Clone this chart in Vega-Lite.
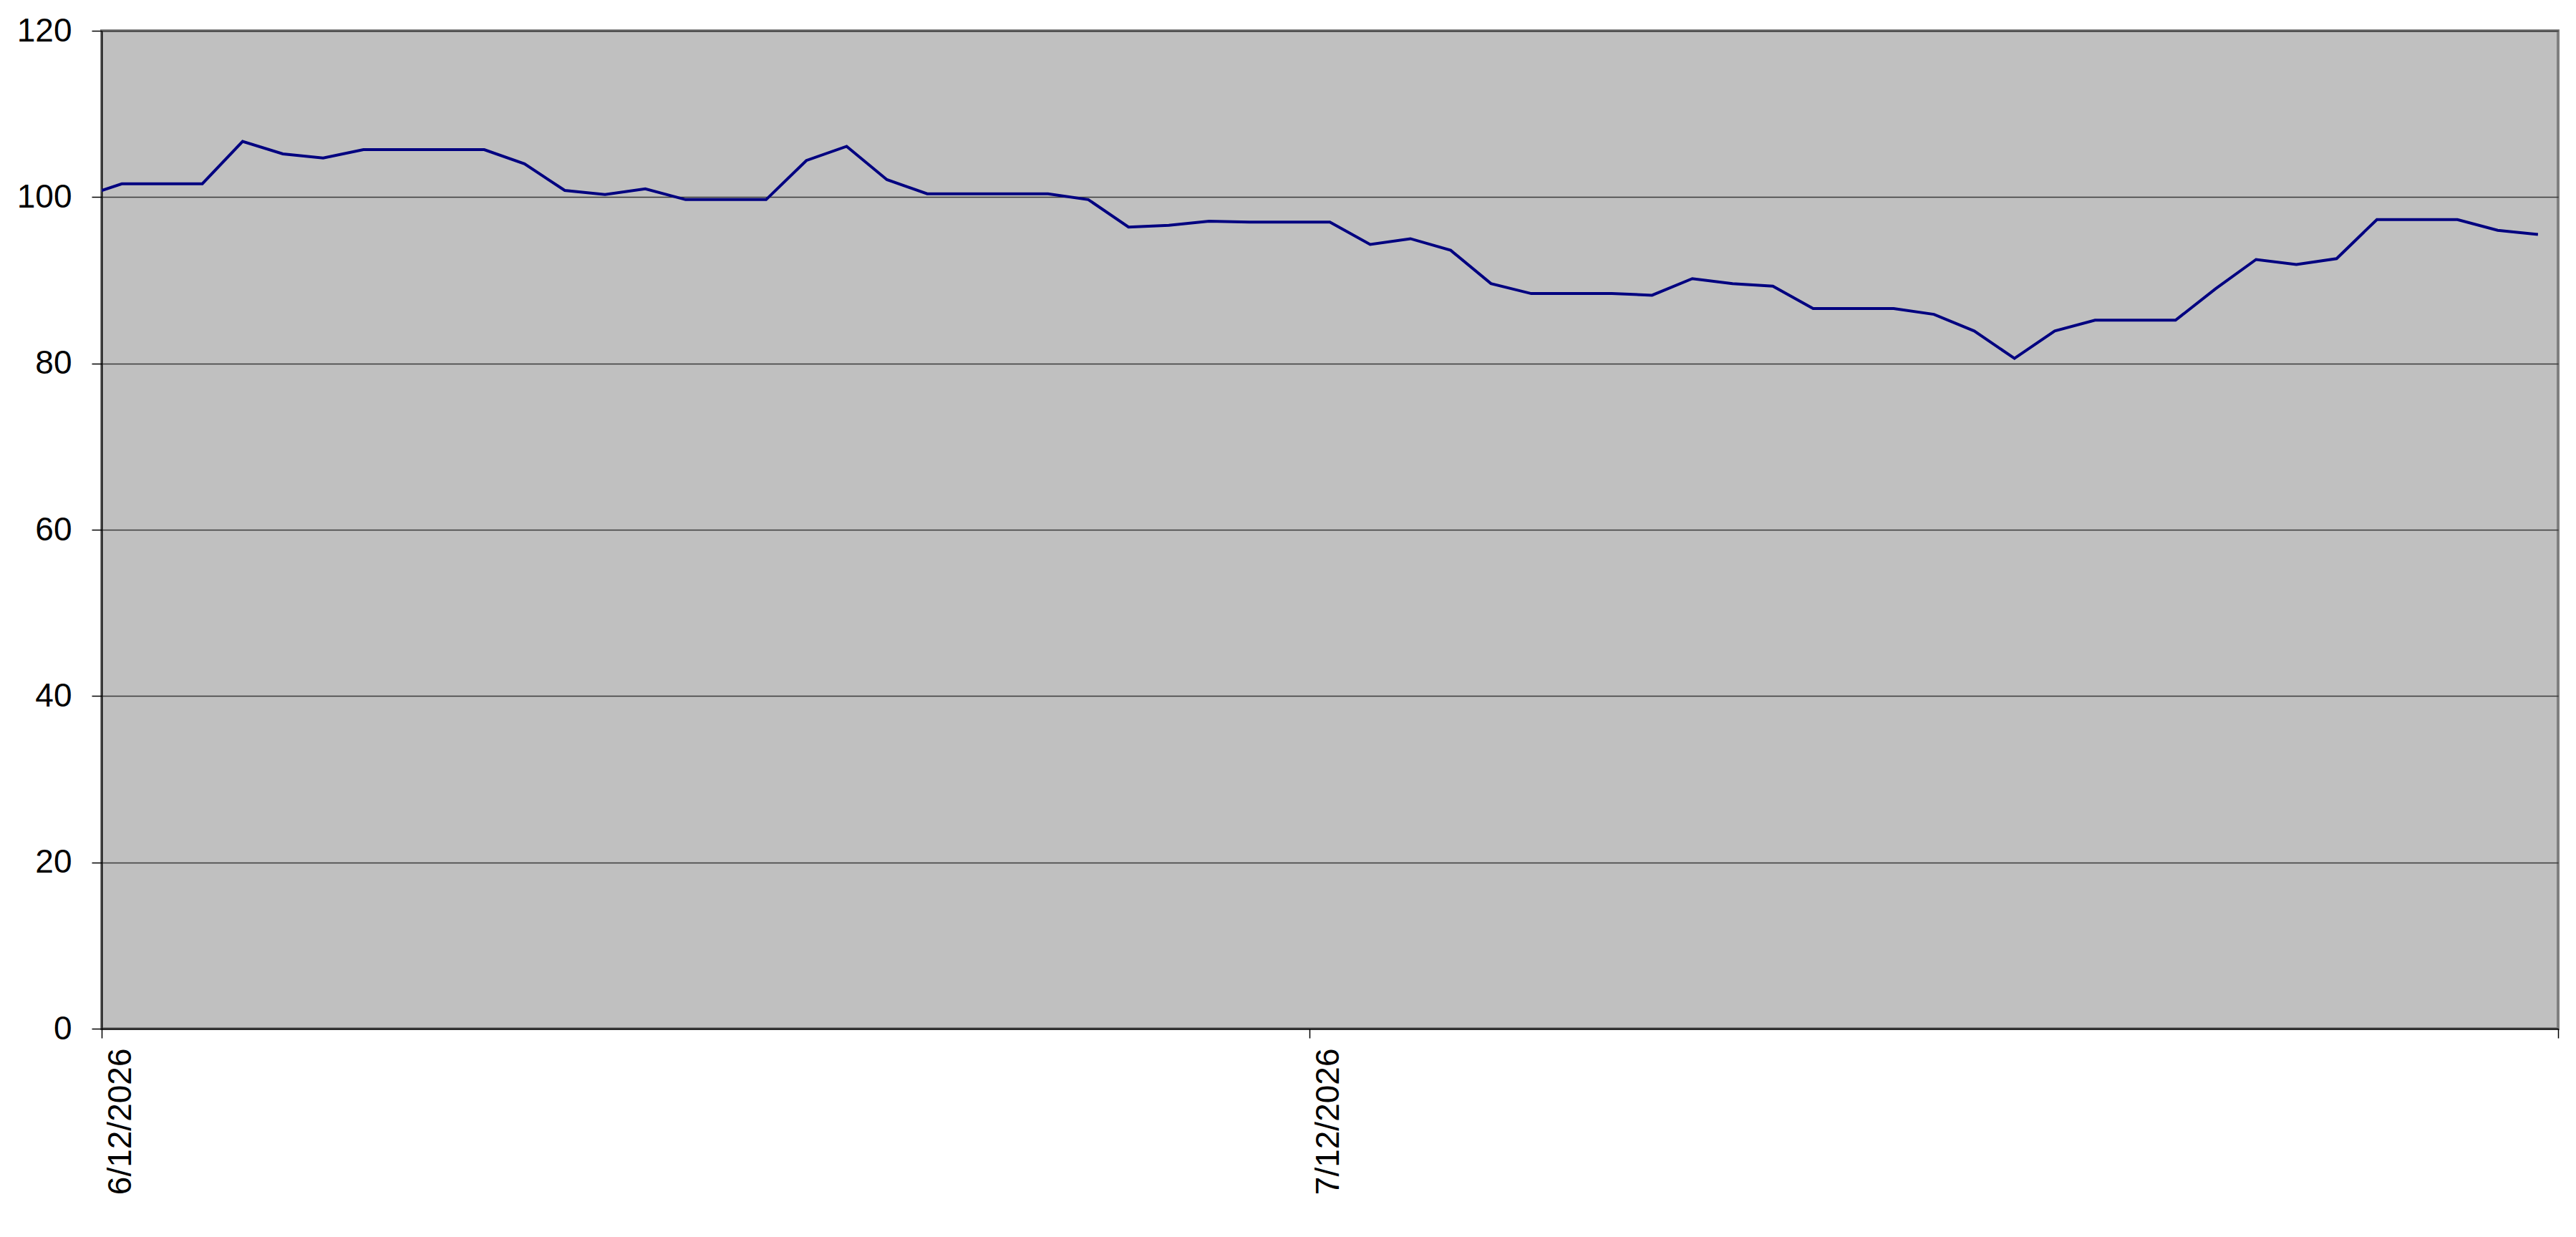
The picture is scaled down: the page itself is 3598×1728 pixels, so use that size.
{
  "$schema": "https://vega.github.io/schema/vega-lite/v6.json",
  "autosize": {"type": "none"},
  "padding": {"left": 142, "top": 43, "right": 25, "bottom": 291},
  "width": 3431,
  "height": 1394,
  "background": "white",
  "config": {
    "view": {"fill": "#C0C0C0", "stroke": "#808080", "strokeWidth": 4},
    "axis": {
      "labelFont": "Liberation Sans",
      "labelFontSize": 46,
      "labelColor": "black",
      "labelLimit": 0,
      "domainColor": "black",
      "domainWidth": 1.5,
      "tickColor": "black",
      "tickWidth": 1.5,
      "title": null
    }
  },
  "data": {
    "values": [
      {"date": "2026-06-11T12:00:00", "value": 100.0},
      {"date": "2026-06-12T12:00:00", "value": 101.6},
      {"date": "2026-06-13T12:00:00", "value": 101.6},
      {"date": "2026-06-14T12:00:00", "value": 101.6},
      {"date": "2026-06-15T12:00:00", "value": 106.7},
      {"date": "2026-06-16T12:00:00", "value": 105.2},
      {"date": "2026-06-17T12:00:00", "value": 104.7},
      {"date": "2026-06-18T12:00:00", "value": 105.7},
      {"date": "2026-06-19T12:00:00", "value": 105.7},
      {"date": "2026-06-20T12:00:00", "value": 105.7},
      {"date": "2026-06-21T12:00:00", "value": 105.7},
      {"date": "2026-06-22T12:00:00", "value": 104.0},
      {"date": "2026-06-23T12:00:00", "value": 100.8},
      {"date": "2026-06-24T12:00:00", "value": 100.3},
      {"date": "2026-06-25T12:00:00", "value": 101.0},
      {"date": "2026-06-26T12:00:00", "value": 99.7},
      {"date": "2026-06-27T12:00:00", "value": 99.7},
      {"date": "2026-06-28T12:00:00", "value": 99.7},
      {"date": "2026-06-29T12:00:00", "value": 104.4},
      {"date": "2026-06-30T12:00:00", "value": 106.1},
      {"date": "2026-07-01T12:00:00", "value": 102.1},
      {"date": "2026-07-02T12:00:00", "value": 100.4},
      {"date": "2026-07-03T12:00:00", "value": 100.4},
      {"date": "2026-07-04T12:00:00", "value": 100.4},
      {"date": "2026-07-05T12:00:00", "value": 100.4},
      {"date": "2026-07-06T12:00:00", "value": 99.7},
      {"date": "2026-07-07T12:00:00", "value": 96.4},
      {"date": "2026-07-08T12:00:00", "value": 96.6},
      {"date": "2026-07-09T12:00:00", "value": 97.1},
      {"date": "2026-07-10T12:00:00", "value": 97.0},
      {"date": "2026-07-11T12:00:00", "value": 97.0},
      {"date": "2026-07-12T12:00:00", "value": 97.0},
      {"date": "2026-07-13T12:00:00", "value": 94.3},
      {"date": "2026-07-14T12:00:00", "value": 95.0},
      {"date": "2026-07-15T12:00:00", "value": 93.6},
      {"date": "2026-07-16T12:00:00", "value": 89.6},
      {"date": "2026-07-17T12:00:00", "value": 88.4},
      {"date": "2026-07-18T12:00:00", "value": 88.4},
      {"date": "2026-07-19T12:00:00", "value": 88.4},
      {"date": "2026-07-20T12:00:00", "value": 88.2},
      {"date": "2026-07-21T12:00:00", "value": 90.2},
      {"date": "2026-07-22T12:00:00", "value": 89.6},
      {"date": "2026-07-23T12:00:00", "value": 89.3},
      {"date": "2026-07-24T12:00:00", "value": 86.6},
      {"date": "2026-07-25T12:00:00", "value": 86.6},
      {"date": "2026-07-26T12:00:00", "value": 86.6},
      {"date": "2026-07-27T12:00:00", "value": 85.9},
      {"date": "2026-07-28T12:00:00", "value": 83.9},
      {"date": "2026-07-29T12:00:00", "value": 80.6},
      {"date": "2026-07-30T12:00:00", "value": 83.9},
      {"date": "2026-07-31T12:00:00", "value": 85.2},
      {"date": "2026-08-01T12:00:00", "value": 85.2},
      {"date": "2026-08-02T12:00:00", "value": 85.2},
      {"date": "2026-08-03T12:00:00", "value": 89.0},
      {"date": "2026-08-04T12:00:00", "value": 92.5},
      {"date": "2026-08-05T12:00:00", "value": 91.9},
      {"date": "2026-08-06T12:00:00", "value": 92.6},
      {"date": "2026-08-07T12:00:00", "value": 97.3},
      {"date": "2026-08-08T12:00:00", "value": 97.3},
      {"date": "2026-08-09T12:00:00", "value": 97.3},
      {"date": "2026-08-10T12:00:00", "value": 96.0},
      {"date": "2026-08-11T12:00:00", "value": 95.5}
    ]
  },
  "mark": {"type": "line", "color": "#000080", "strokeWidth": 4, "clip": true},
  "encoding": {
    "x": {
      "field": "date",
      "type": "temporal",
      "scale": {
        "domain": [
          {"year": 2026, "month": 6, "date": 12},
          {"year": 2026, "month": 8, "date": 12}
        ]
      },
      "axis": {
        "values": [
          {"year": 2026, "month": 6, "date": 12},
          {"year": 2026, "month": 7, "date": 12},
          {"year": 2026, "month": 8, "date": 12}
        ],
        "format": "%-m/%-d/%Y",
        "labelExpr": "datum.index < 1 ? datum.label : ''",
        "labelAngle": -90,
        "labelAlign": "right",
        "labelBaseline": "middle",
        "labelOffset": 26,
        "labelPadding": 14,
        "tickSize": 13,
        "grid": false
      }
    },
    "y": {
      "field": "value",
      "type": "quantitative",
      "scale": {"domain": [0, 120], "nice": false},
      "axis": {
        "values": [0, 20, 40, 60, 80, 100, 120],
        "tickSize": 14,
        "labelPadding": 28,
        "grid": true,
        "gridColor": "#3a3a3a",
        "gridWidth": 1.3
      }
    }
  }
}
